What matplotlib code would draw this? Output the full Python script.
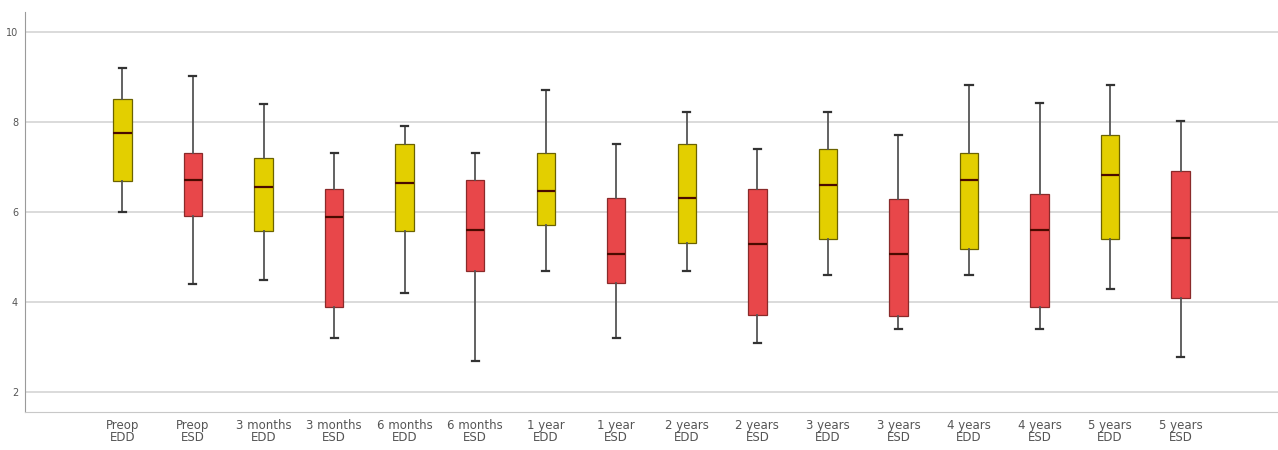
import matplotlib
matplotlib.use("Agg")
import matplotlib.pyplot as plt

# values (per group: whisker low, Q1, median, Q3, whisker high)
labels = ["Preop\nEDD", "Preop\nESD", "3 months\nEDD", "3 months\nESD",
          "6 months\nEDD", "6 months\nESD", "1 year\nEDD", "1 year\nESD",
          "2 years\nEDD", "2 years\nESD", "3 years\nEDD", "3 years\nESD",
          "4 years\nEDD", "4 years\nESD", "5 years\nEDD", "5 years\nESD"]
whisker_low = [6.0, 4.4, 4.49, 3.2, 4.2, 2.69, 4.7, 3.2,
               4.7, 3.09, 4.6, 3.4, 4.6, 3.4, 4.3, 2.78]
q1 = [6.69, 5.91, 5.58, 3.89, 5.58, 4.7, 5.71, 4.42,
      5.31, 3.71, 5.4, 3.7, 5.19, 3.9, 5.41, 4.1]
median = [7.76, 6.71, 6.56, 5.89, 6.64, 5.6, 6.46, 5.07,
          6.31, 5.3, 6.61, 5.06, 6.71, 5.59, 6.82, 5.42]
q3 = [8.51, 7.31, 7.2, 6.51, 7.51, 6.71, 7.32, 6.31,
      7.51, 6.51, 7.4, 6.3, 7.31, 6.4, 7.7, 6.91]
whisker_high = [9.2, 9.02, 8.4, 7.31, 7.92, 7.32, 8.71, 7.51,
                8.21, 7.4, 8.21, 7.7, 8.81, 8.41, 8.81, 8.01]
yticks = [2, 4, 6, 8, 10]

yellow = "#E3CF00"
red = "#E8474A"

stats = []
for i in range(len(labels)):
    stats.append({"whislo": whisker_low[i], "q1": q1[i], "med": median[i],
                  "q3": q3[i], "whishi": whisker_high[i], "fliers": []})

fig = plt.figure(figsize=(12.78, 4.5), dpi=100)
ax = fig.add_axes([0.0196, 0.0844, 0.9804, 0.8889])

positions = list(range(1, len(labels) + 1))
bp = ax.bxp(stats, positions=positions, widths=0.26, patch_artist=True,
            showfliers=False, capwidths=0.1,
            whiskerprops=dict(color="#555555", linewidth=1.3),
            capprops=dict(color="#333333", linewidth=1.6),
            medianprops=dict(color="#4a0a00", linewidth=1.6),
            boxprops=dict(linewidth=0.9))
for i, box in enumerate(bp["boxes"]):
    if i % 2 == 0:
        box.set_facecolor(yellow)
        box.set_edgecolor("#6b6200")
    else:
        box.set_facecolor(red)
        box.set_edgecolor("#8a2a2a")

ax.set_xlim(-0.38, 17.38)
ax.set_ylim(1.56, 10.44)
ax.set_yticks(yticks)
ax.set_yticklabels([str(t) for t in yticks])
ax.set_xticks(positions)
ax.set_xticklabels(labels)
ax.yaxis.grid(True, color="#d4d4d4", linewidth=1.2)
ax.set_axisbelow(True)
ax.tick_params(axis="both", length=0, colors="#555555")
ax.tick_params(axis="x", pad=5, labelsize=8.5)
ax.tick_params(axis="y", pad=5, labelsize=7)
for lbl in ax.get_xticklabels():
    lbl.set_linespacing(0.95)
ax.spines["top"].set_visible(False)
ax.spines["right"].set_visible(False)
ax.spines["left"].set_color("#9a9a9a")
ax.spines["bottom"].set_color("#c8c8c8")

fig.savefig("out.png", dpi=100)
